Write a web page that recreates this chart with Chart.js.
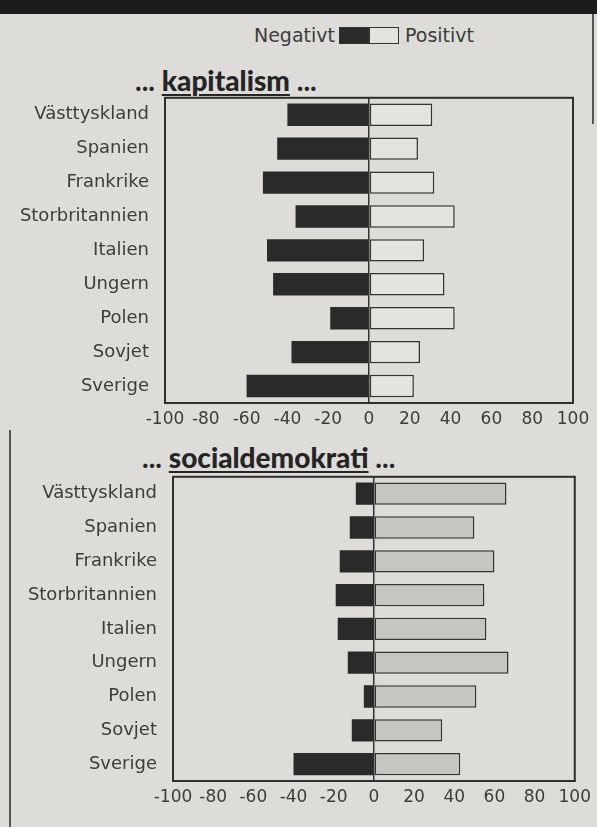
<!DOCTYPE html>
<html>
<head>
<meta charset="utf-8">
<script src="https://cdn.jsdelivr.net/npm/chart.js@4.4.1/dist/chart.umd.min.js"></script>
<style>
  html, body { margin: 0; padding: 0; }
  body {
    width: 597px; height: 827px; position: relative; overflow: hidden;
    background: #dddcd8; font-family: "DejaVu Sans", sans-serif; color: #3c3c3c;
  }
  .band { position: absolute; left: 0; top: 0; width: 597px; height: 14px; background: #1c1c1c; }
  .frame-r { position: absolute; left: 592px; top: 14px; width: 2px; height: 110px; background: #555; }
  .frame-l { position: absolute; left: 9px; top: 430px; width: 2px; height: 397px; background: #555; }
  .legend { position: absolute; top: 24px; left: 0; width: 597px; height: 22px; font-size: 19px; }
  .legend span { position: absolute; top: 0; }
  .sw { position: absolute; top: 3px; width: 30px; height: 17px; box-sizing: border-box; border: 1.5px solid #333; }
  .title { position: absolute; font-family: Lato, sans-serif; font-weight: bold; font-size: 28px; color: #252525; white-space: nowrap; }
  .title b { text-decoration: underline; text-decoration-thickness: 2px; text-underline-offset: 3px; }
  .chartbox { position: absolute; left: 0; width: 597px; }
</style>
</head>
<body>
<div class="band"></div>
<div class="frame-r"></div>
<div class="frame-l"></div>

<div class="legend">
  <span style="right:262px">Negativt</span>
  <div class="sw" style="left:339px; background:#2a2a2a"></div>
  <div class="sw" style="left:369px; background:#e4e3df"></div>
  <span style="left:405px">Positivt</span>
</div>

<div class="title" style="left:135px; top:63px">... <b>kapitalism</b> ...</div>
<div class="title" style="left:142px; top:440px">... <b>socialdemokrati</b> ...</div>

<div class="chartbox" style="top:71px; height:362px"><canvas id="kap"></canvas></div>
<div class="chartbox" style="top:450px; height:361px"><canvas id="soc"></canvas></div>

<script>
const countries = ["Västtyskland", "Spanien", "Frankrike", "Storbritannien", "Italien", "Ungern", "Polen", "Sovjet", "Sverige"];
const tickValues = [-100, -80, -60, -40, -20, 0, 20, 40, 60, 80, 100];

// ... kapitalism ...
const kapNegativt = [-40, -45, -52, -36, -50, -47, -19, -38, -60];
const kapPositivt = [31, 24, 32, 42, 27, 37, 42, 25, 22];

// ... socialdemokrati ...
const socNegativt = [-9, -12, -17, -19, -18, -13, -5, -11, -40];
const socPositivt = [66, 50, 60, 55, 56, 67, 51, 34, 43];

const boxPlugin = {
  id: 'box',
  afterDraw(chart) {
    const a = chart.chartArea, ctx = chart.ctx;
    ctx.save();
    ctx.strokeStyle = '#2e2e2e';
    ctx.lineWidth = 2;
    ctx.strokeRect(a.left, a.top, a.right - a.left, a.bottom - a.top);
    ctx.restore();
  }
};

function makeChart(id, neg, pos, posColor, axisWidth, padRight) {
  new Chart(document.getElementById(id), {
    type: 'bar',
    data: {
      labels: countries,
      datasets: [
        {
          label: 'Negativt',
          data: neg,
          backgroundColor: '#2a2a2a',
          borderWidth: 0,
          barPercentage: 0.66,
          categoryPercentage: 1
        },
        {
          label: 'Positivt',
          data: pos,
          backgroundColor: posColor,
          borderColor: '#333',
          borderWidth: 1.5,
          borderSkipped: false,
          barPercentage: 0.66,
          categoryPercentage: 1
        }
      ]
    },
    options: {
      indexAxis: 'y',
      responsive: true,
      maintainAspectRatio: false,
      animation: false,
      layout: { padding: { left: 0, right: padRight, top: 0, bottom: 0 } },
      plugins: {
        legend: { display: false },
        tooltip: { enabled: false }
      },
      scales: {
        x: {
          stacked: true,
          min: -100,
          max: 100,
          afterBuildTicks: (s) => { s.ticks = tickValues.map(v => ({ value: v })); },
          border: { display: false },
          grid: {
            drawTicks: false,
            lineWidth: 1.5,
            color: (c) => (c.tick && c.tick.value === 0) ? '#333' : 'rgba(0,0,0,0)'
          },
          ticks: {
            padding: 6,
            maxRotation: 0,
            autoSkip: false,
            color: '#3c3c3c',
            font: { family: 'DejaVu Sans', size: 17 }
          },
          afterFit: (s) => { s.height = 30; }
        },
        y: {
          stacked: true,
          border: { display: false },
          grid: { display: false, drawTicks: false },
          ticks: {
            padding: 16,
            color: '#3c3c3c',
            font: { family: 'DejaVu Sans', size: 18 }
          },
          afterFit: (s) => { s.width = axisWidth; }
        }
      }
    },
    plugins: [boxPlugin]
  });
}

makeChart('kap', kapNegativt, kapPositivt, '#e4e3df', 165, 24);
makeChart('soc', socNegativt, socPositivt, '#c6c5c1', 173, 15);
</script>
</body>
</html>
